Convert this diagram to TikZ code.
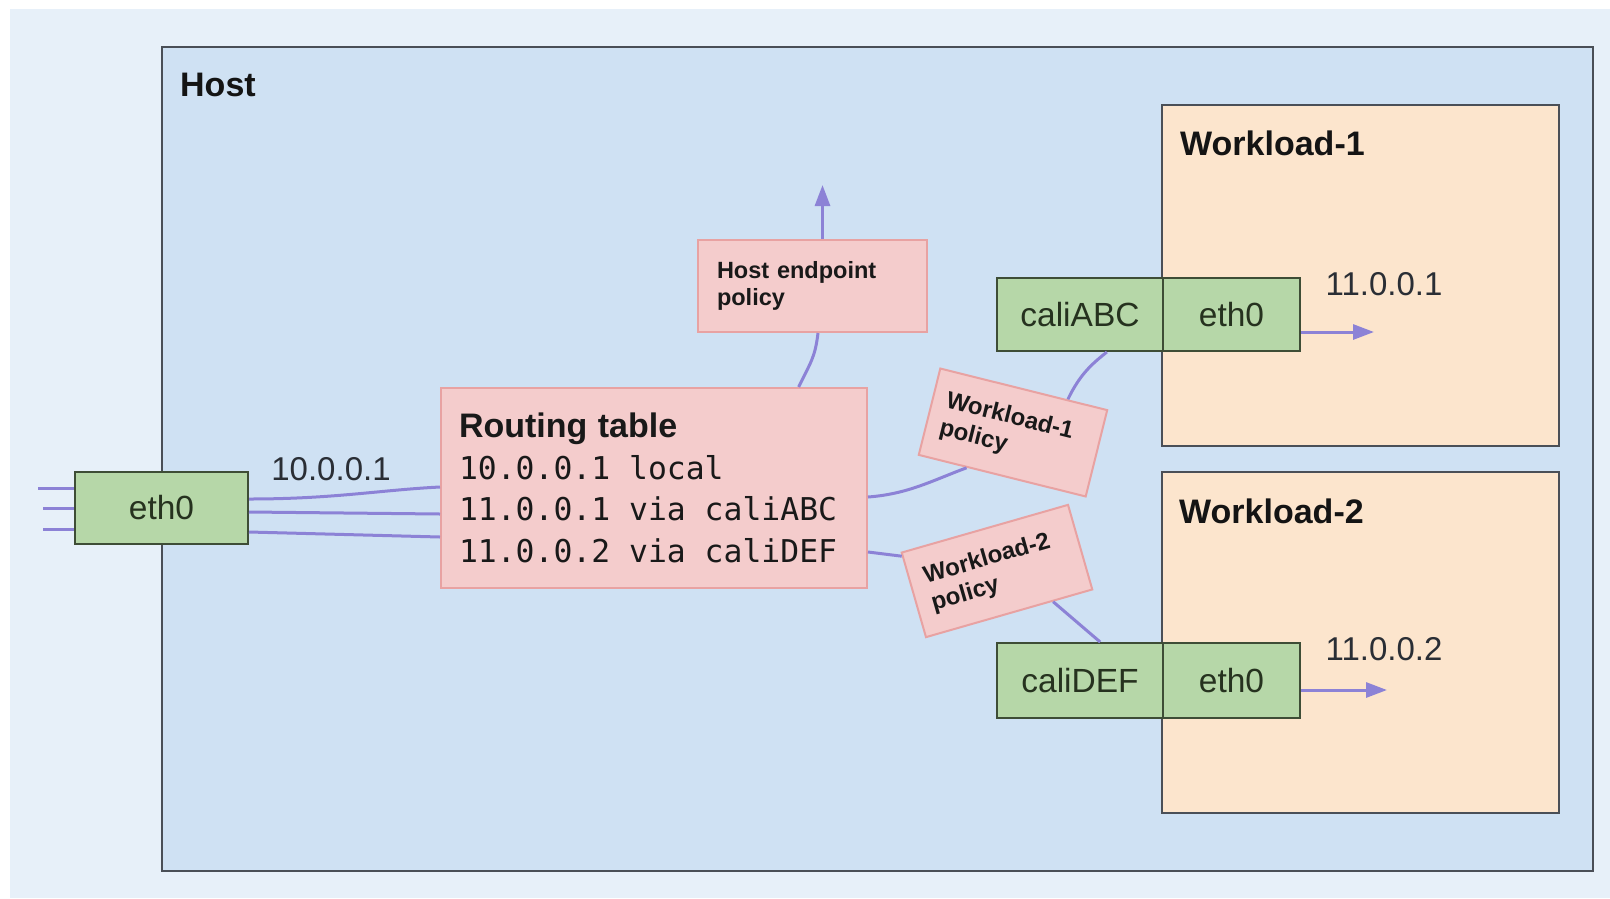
\documentclass[tikz,border=0pt]{standalone}
\usepackage{fontspec}
\setmainfont{Liberation Sans}
\newfontfamily\rtmono{DejaVu Sans Mono}
\usetikzlibrary{arrows.meta,calc}
\definecolor{outerbg}{HTML}{E7F0F9}
\definecolor{hostfill}{HTML}{CFE1F3}
\definecolor{hostline}{HTML}{4A4F57}
\definecolor{wlfill}{HTML}{FCE5CD}
\definecolor{greenfill}{HTML}{B6D7A8}
\definecolor{greenline}{HTML}{3E4D36}
\definecolor{greentext}{HTML}{26321F}
\definecolor{pinkfill}{HTML}{F4CCCC}
\definecolor{pinkline}{HTML}{E8A2A2}
\definecolor{wire}{HTML}{8C82D6}
\definecolor{labeltext}{HTML}{2A2E35}
\newcommand\msp{\phantom{0}}
\begin{document}
\begin{tikzpicture}[x=1pt,y=-1pt,
  hostbox/.style={draw=hostline,line width=2.5pt,fill=hostfill,inner sep=0pt},
  wlbox/.style={draw=hostline,line width=2.2pt,fill=wlfill,inner sep=0pt,minimum width=397pt,minimum height=341pt},
  ifbox/.style={draw=greenline,line width=2pt,fill=greenfill,text=greentext,inner sep=0pt,minimum height=73pt,font=\fontsize{33.5}{38}\selectfont},
  polbox/.style={draw=pinkline,line width=2pt,fill=pinkfill,text=black!90,align=left,font=\fontsize{24}{28}\selectfont\bfseries},
  title/.style={anchor=west,inner sep=0pt,text=black!92,font=\fontsize{34}{40}\selectfont\bfseries},
  addr/.style={inner sep=0pt,text=labeltext,font=\fontsize{33}{38}\selectfont},
  wirel/.style={draw=wire,line width=3pt},
  wirea/.style={draw=wire,line width=3pt,-{Triangle[length=21pt,width=15pt]}}
]
\useasboundingbox (0,0) rectangle (1610,898);
\fill[white] (0,0) rectangle (1610,898);
\fill[outerbg] (10,9) rectangle (1610,898);

% containers
\node[hostbox,minimum width=1431pt,minimum height=824pt] (host) at (877.5,459) {};
\node[title] (hostlabel) at (180,85) {Host};
\node[wlbox] (wl1) at (1360.5,275.5) {};
\node[title] (wl1label) at (1180,143) {Workload-1};
\node[wlbox] (wl2) at (1360.5,642.5) {};
\node[title] (wl2label) at (1179,511) {Workload-2};

% interfaces
\node[ifbox,minimum width=173pt,minimum height=72pt] (eth0L) at (161.5,508) {eth0};
\node[ifbox,minimum width=166pt] (caliABC) at (1080,314.5) {caliABC};
\node[ifbox,minimum width=137pt] (eth0A) at (1231.5,314.5) {eth0};
\node[ifbox,minimum width=166pt,minimum height=75pt] (caliDEF) at (1080,680.5) {caliDEF};
\node[ifbox,minimum width=137pt,minimum height=75pt] (eth0D) at (1231.5,680.5) {eth0};

% routing table
\node[draw=pinkline,line width=2pt,fill=pinkfill,text=black!90,inner xsep=18pt,inner ysep=0pt,
      minimum width=426pt,minimum height=200pt,text width=390pt,align=left,
      font=\fontsize{31.4}{41.7}\selectfont] (rt) at (654,488)
  {{\fontsize{34}{41.7}\selectfont\bfseries Routing table}\\
   {\rtmono 10.0.0.1\msp local}\\
   {\rtmono 11.0.0.1\msp via\msp caliABC}\\
   {\rtmono 11.0.0.2\msp via\msp caliDEF}};

% policies
\node[polbox,font=\fontsize{23.5}{27}\selectfont\bfseries,inner xsep=19pt,text width=191pt,minimum width=229pt,minimum height=92pt] (hep) at (812.5,286) {Host endpoint\\policy};
\node[polbox,inner xsep=14pt,text width=144pt,minimum width=172pt,minimum height=89pt,rotate=-14] (wp1) at (1013,432.5) {Workload-1\\policy};
\node[polbox,inner xsep=15pt,text width=143pt,minimum width=173pt,minimum height=88pt,rotate=16] (wp2) at (997,571) {Workload-2\\policy};

% address labels
\node[addr] (a1) at (331,469) {10.0.0.1};
\node[addr] (a2) at (1384,284) {11.0.0.1};
\node[addr] (a3) at (1384,649) {11.0.0.2};

% free ends
\coordinate (in1) at (38,488);
\coordinate (in2) at (43,508);
\coordinate (in3) at (43,529);
\coordinate (up) at (822.5,185);
\coordinate (outA) at (1374,332);
\coordinate (outD) at (1387,690);

% connectors
\draw[wirel] (in1) -- (in1 -| eth0L.west);
\draw[wirel] (in2) -- (in2 -| eth0L.west);
\draw[wirel] (in3) -- (in3 -| eth0L.west);

\draw[wirel] ([yshift=9pt]eth0L.east) .. controls +(85,0) and +(-60,3) .. ([yshift=1pt]rt.west);
\draw[wirel] ([yshift=-4pt]eth0L.east) -- ([yshift=-26pt]rt.west);
\draw[wirel] ([yshift=-24pt]eth0L.east) -- ([yshift=-49pt]rt.west);

\draw[wirel] ($(rt.north west)!0.838!(rt.north east)$) .. controls +(12,-25) and +(-3,25) .. ([xshift=5.5pt]hep.south);
\draw[wirea] ([xshift=10pt]hep.north) -- (up);

\draw[wirel] ([yshift=-9pt]rt.east) .. controls +(40,-3) and +(-35,13) .. ($(wp1.south west)!0.29!(wp1.south east)$);
\draw[wirel] ($(wp1.north west)!0.76!(wp1.north east)$) .. controls +(12,-25) and +(-15,12) .. ($(caliABC.south west)!0.66!(caliABC.south east)$);

\draw[wirel] ([yshift=-64pt]rt.east) -- ($(wp2.north west)!0.05!(wp2.south west)$);
\draw[wirel] ($(wp2.south west)!0.76!(wp2.south east)$) -- ($(caliDEF.north west)!0.62!(caliDEF.north east)$);

\draw[wirea] ([yshift=-17.5pt]eth0A.east) -- (outA);
\draw[wirea] ([yshift=-9.5pt]eth0D.east) -- (outD);
\end{tikzpicture}
\end{document}
